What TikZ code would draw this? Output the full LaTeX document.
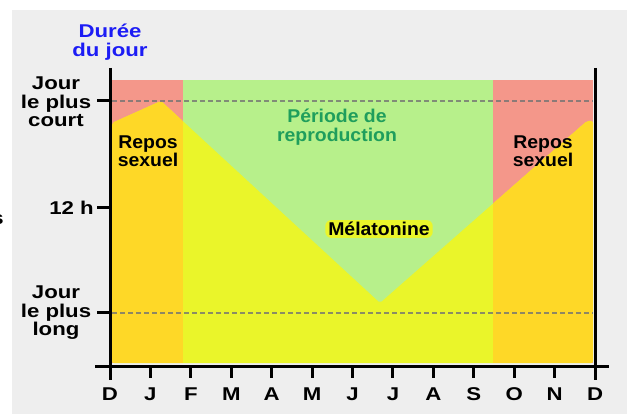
\documentclass[tikz,border=0pt]{standalone}
\usepackage{fontspec}
\setmainfont{Liberation Sans}
\newfontfamily\axfont[FakeStretch=1.2]{Liberation Sans}
\newfontfamily\inlfont[FakeStretch=1.05]{Liberation Sans}
\definecolor{bggray}{HTML}{EEEEEE}
\definecolor{salmon}{HTML}{F4978A}
\definecolor{lgreen}{HTML}{B7F08B}
\definecolor{oyellow}{HTML}{FED827}
\definecolor{byellow}{HTML}{EAF52A}
\definecolor{tblue}{HTML}{1C1CF5}
\definecolor{tgreen}{HTML}{1F9E5C}
\begin{document}
\begin{tikzpicture}[x=1pt,y=-1pt,
  lab/.style={font=\inlfont\fontsize{18.5}{18.5}\selectfont\bfseries, inner sep=0pt, align=center},
  axlab/.style={font=\axfont\fontsize{18.5}{18.5}\selectfont\bfseries, inner sep=0pt, align=center},
  axisline/.style={line width=3pt, black},
  dashline/.style={line width=1.1pt, black!55, opacity=0.8, dash pattern=on 5pt off 3pt}]
\useasboundingbox (0,0) rectangle (627,414);
\fill[white] (0,0) rectangle (627,414);
\fill[bggray] (12,10) rectangle (627,414);
% regions
\fill[salmon] (112,80) rectangle (593,363);
\fill[lgreen] (183,80) rectangle (493,363);
\fill[byellow, rounded corners=2pt] (112,123) -- (161,101) -- (380,303) -- (587,121) -- (593,121) -- (593,363) -- (112,363) -- cycle;
\begin{scope}
\clip[rounded corners=2pt] (112,123) -- (161,101) -- (380,303) -- (587,121) -- (593,121) -- (593,363) -- (112,363) -- cycle;
\fill[oyellow] (112,80) rectangle (183,363);
\fill[oyellow] (493,80) rectangle (593,363);
\end{scope}
% dashed reference lines
\draw[dashline] (112,101) -- (593,101);
\draw[dashline] (112,313) -- (593,313);
% labels inside
\node[lab] (r1) at (148,151) {Repos\\sexuel};
\node[lab] (r2) at (543,151) {Repos\\sexuel};
\node[lab, text=tgreen] (rep) at (337,127) {Période de\\reproduction};
\node[lab, fill=byellow, rounded corners=6pt, inner xsep=3pt, inner ysep=2pt] (mel) at (379,229) {Mélatonine};
% axes
\draw[axisline] (110,68) -- (110,380);
\draw[axisline] (595,68) -- (595,380);
\draw[axisline] (95,366) -- (609,366);
\foreach \k in {1,...,11} \draw[axisline] ({110+\k*40.42},366) -- ({110+\k*40.42},378);
\foreach \yy in {101,208,313} \draw[axisline] (97,\yy) -- (110,\yy);
% month labels
\foreach \m [count=\i from 0] in {D,J,F,M,A,M,J,J,A,S,O,N,D}
  \node[axlab, anchor=base] (m\i) at ({110+\i*40.42},400) {\m};
% left labels
\node[axlab, text=tblue] (title) at (110,42) {Durée\\du jour};
\node[axlab] (court) at (56,102) {Jour\\le plus\\court};
\node[axlab] (long) at (56,313) {Jour\\le plus\\long};
\node[axlab, anchor=east] (h12) at (94,208) {12 h};
\node[axlab, anchor=east] (cut) at (4,220) {s};
\end{tikzpicture}
\end{document}
